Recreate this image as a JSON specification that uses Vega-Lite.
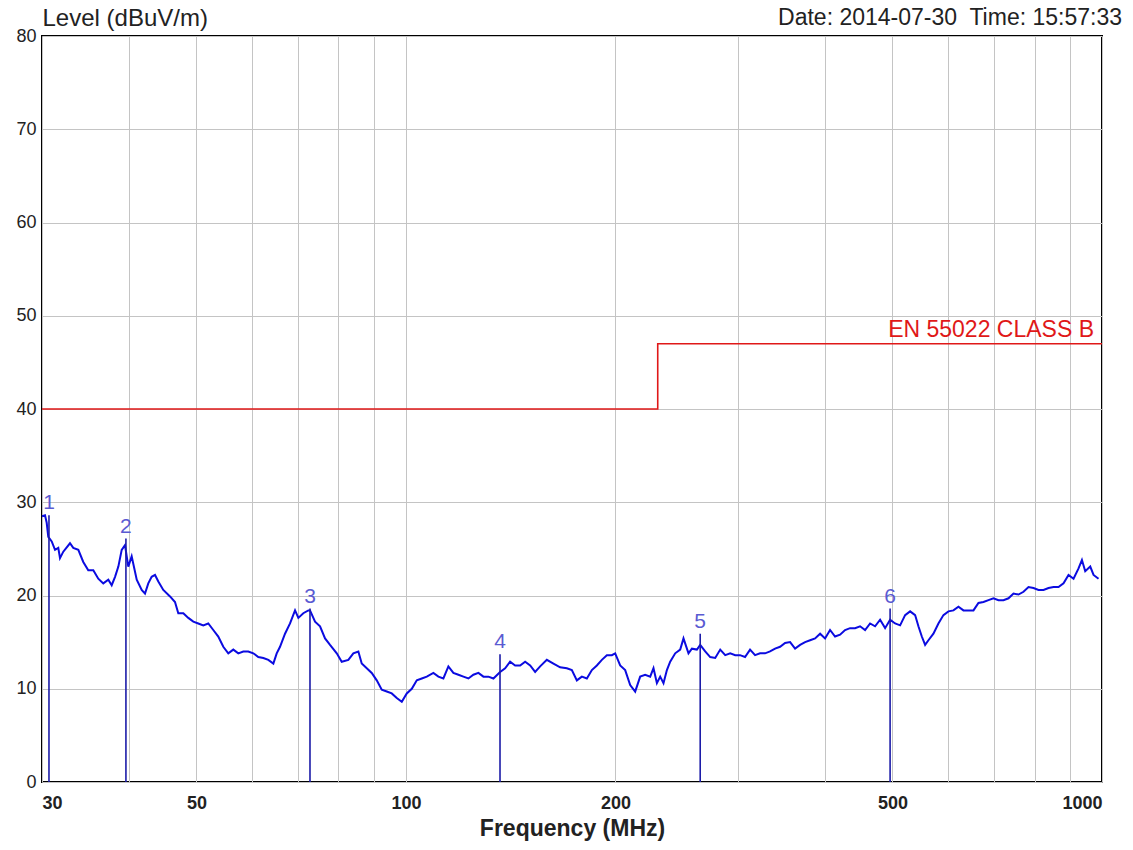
{
  "$schema": "https://vega.github.io/schema/vega-lite/v6.json",
  "width": 1060,
  "height": 746,
  "autosize": {"type": "none"},
  "padding": {"left": 42, "top": 36, "right": 31, "bottom": 68},
  "background": "white",
  "config": {
    "font": "Liberation Sans",
    "view": {"stroke": "#000000", "strokeWidth": 2},
    "axis": {"grid": true, "gridColor": "#c4c4c4", "gridWidth": 1, "domain": false, "ticks": false, "labelColor": "#222222", "titleColor": "#222222", "labelFontSize": 18, "titleFontSize": 23, "titleFontWeight": "normal"}
  },
  "datasets": {
    "trace": [
      {"f":30.0,"level":28.5},{"f":30.3,"level":28.6},{"f":30.47,"level":27.8},{"f":30.63,"level":26.3},{"f":30.98,"level":25.8},{"f":31.32,"level":24.9},{"f":31.66,"level":25.1},{"f":31.84,"level":24.0},{"f":32.19,"level":24.7},{"f":32.91,"level":25.6},{"f":33.27,"level":25.1},{"f":33.83,"level":24.9},{"f":34.39,"level":23.6},{"f":34.96,"level":22.7},{"f":35.55,"level":22.7},{"f":36.14,"level":21.8},{"f":36.74,"level":21.3},{"f":37.36,"level":21.7},{"f":37.78,"level":21.1},{"f":38.2,"level":22.0},{"f":38.62,"level":23.1},{"f":39.05,"level":24.9},{"f":39.48,"level":25.4},{"f":39.91,"level":23.1},{"f":40.36,"level":24.2},{"f":41.04,"level":21.7},{"f":41.72,"level":20.6},{"f":42.18,"level":20.2},{"f":42.64,"level":21.3},{"f":43.12,"level":22.0},{"f":43.6,"level":22.2},{"f":44.08,"level":21.5},{"f":44.81,"level":20.6},{"f":45.82,"level":19.9},{"f":46.58,"level":19.3},{"f":47.09,"level":18.1},{"f":47.88,"level":18.1},{"f":48.68,"level":17.6},{"f":49.49,"level":17.2},{"f":50.31,"level":17.0},{"f":51.15,"level":16.8},{"f":52.0,"level":17.0},{"f":52.87,"level":16.3},{"f":53.75,"level":15.6},{"f":54.65,"level":14.5},{"f":55.56,"level":13.8},{"f":56.49,"level":14.2},{"f":57.43,"level":13.8},{"f":58.39,"level":14.0},{"f":59.36,"level":14.0},{"f":60.35,"level":13.8},{"f":61.36,"level":13.4},{"f":62.39,"level":13.3},{"f":63.43,"level":13.1},{"f":64.49,"level":12.7},{"f":65.21,"level":13.8},{"f":65.93,"level":14.5},{"f":67.03,"level":15.9},{"f":68.15,"level":17.0},{"f":69.29,"level":18.4},{"f":70.05,"level":17.6},{"f":71.21,"level":18.1},{"f":72.4,"level":18.4},{"f":72.81,"level":18.4},{"f":74.03,"level":17.2},{"f":75.26,"level":16.7},{"f":76.52,"level":15.4},{"f":77.79,"level":14.7},{"f":79.54,"level":13.8},{"f":80.86,"level":12.9},{"f":82.65,"level":13.1},{"f":84.03,"level":13.8},{"f":85.43,"level":14.0},{"f":86.39,"level":12.7},{"f":87.84,"level":12.2},{"f":89.3,"level":11.7},{"f":90.79,"level":10.9},{"f":92.31,"level":9.9},{"f":93.85,"level":9.7},{"f":95.41,"level":9.5},{"f":97.01,"level":9.0},{"f":98.63,"level":8.6},{"f":100.27,"level":9.5},{"f":101.95,"level":10.0},{"f":103.65,"level":10.9},{"f":105.38,"level":11.1},{"f":107.14,"level":11.3},{"f":109.5,"level":11.7},{"f":111.33,"level":11.3},{"f":113.18,"level":11.1},{"f":115.07,"level":12.4},{"f":116.99,"level":11.7},{"f":118.95,"level":11.5},{"f":120.93,"level":11.3},{"f":122.95,"level":11.1},{"f":125.0,"level":11.5},{"f":127.09,"level":11.7},{"f":129.21,"level":11.3},{"f":131.36,"level":11.3},{"f":133.56,"level":11.1},{"f":136.55,"level":11.8},{"f":138.83,"level":12.2},{"f":141.14,"level":12.9},{"f":143.5,"level":12.5},{"f":145.9,"level":12.5},{"f":148.33,"level":12.9},{"f":150.81,"level":12.5},{"f":153.32,"level":11.8},{"f":155.88,"level":12.4},{"f":159.37,"level":13.1},{"f":162.89,"level":12.7},{"f":166.54,"level":12.3},{"f":170.28,"level":12.2},{"f":173.12,"level":12.0},{"f":176.01,"level":10.9},{"f":178.94,"level":11.3},{"f":181.93,"level":11.1},{"f":184.97,"level":12.0},{"f":188.05,"level":12.5},{"f":191.19,"level":13.1},{"f":194.38,"level":13.6},{"f":197.62,"level":13.6},{"f":199.8,"level":13.8},{"f":203.13,"level":12.5},{"f":206.52,"level":12.0},{"f":209.97,"level":10.4},{"f":213.47,"level":9.7},{"f":217.03,"level":11.3},{"f":220.65,"level":11.5},{"f":224.33,"level":11.3},{"f":226.8,"level":12.2},{"f":229.37,"level":10.6},{"f":231.88,"level":11.3},{"f":234.43,"level":10.6},{"f":237.08,"level":12.0},{"f":239.68,"level":12.9},{"f":243.68,"level":13.8},{"f":247.75,"level":14.2},{"f":250.46,"level":15.4},{"f":254.64,"level":13.8},{"f":257.53,"level":14.3},{"f":261.82,"level":14.2},{"f":264.7,"level":14.7},{"f":269.11,"level":14.0},{"f":273.61,"level":13.4},{"f":278.17,"level":13.3},{"f":282.81,"level":14.2},{"f":287.53,"level":13.6},{"f":292.33,"level":13.8},{"f":297.21,"level":13.6},{"f":301.99,"level":13.6},{"f":307.03,"level":13.4},{"f":312.16,"level":14.2},{"f":317.37,"level":13.6},{"f":322.66,"level":13.8},{"f":328.05,"level":13.8},{"f":333.52,"level":14.0},{"f":339.09,"level":14.3},{"f":344.75,"level":14.5},{"f":350.5,"level":14.9},{"f":356.35,"level":15.0},{"f":362.3,"level":14.3},{"f":368.35,"level":14.7},{"f":374.5,"level":15.0},{"f":380.75,"level":15.2},{"f":387.1,"level":15.4},{"f":393.56,"level":15.9},{"f":400.06,"level":15.4},{"f":406.73,"level":16.3},{"f":413.52,"level":15.6},{"f":420.42,"level":15.8},{"f":427.44,"level":16.3},{"f":434.57,"level":16.5},{"f":441.83,"level":16.5},{"f":449.2,"level":16.7},{"f":456.7,"level":16.3},{"f":464.32,"level":17.0},{"f":472.07,"level":16.7},{"f":479.95,"level":17.4},{"f":487.96,"level":16.5},{"f":496.1,"level":17.4},{"f":504.38,"level":17.0},{"f":512.8,"level":16.8},{"f":521.36,"level":17.9},{"f":530.06,"level":18.3},{"f":538.91,"level":17.9},{"f":544.82,"level":16.7},{"f":550.99,"level":15.6},{"f":557.04,"level":14.7},{"f":563.15,"level":15.2},{"f":572.55,"level":15.9},{"f":582.1,"level":17.0},{"f":591.82,"level":17.9},{"f":601.7,"level":18.3},{"f":611.74,"level":18.4},{"f":621.95,"level":18.8},{"f":632.33,"level":18.4},{"f":642.89,"level":18.4},{"f":653.62,"level":18.4},{"f":664.52,"level":19.2},{"f":675.62,"level":19.3},{"f":686.9,"level":19.5},{"f":698.36,"level":19.7},{"f":710.02,"level":19.5},{"f":721.87,"level":19.5},{"f":733.91,"level":19.7},{"f":746.17,"level":20.2},{"f":758.62,"level":20.1},{"f":771.28,"level":20.4},{"f":784.16,"level":20.9},{"f":797.24,"level":20.8},{"f":810.55,"level":20.6},{"f":824.08,"level":20.6},{"f":837.83,"level":20.8},{"f":851.82,"level":20.9},{"f":866.03,"level":20.9},{"f":880.49,"level":21.3},{"f":895.19,"level":22.2},{"f":910.13,"level":21.8},{"f":925.32,"level":22.9},{"f":935.78,"level":23.8},{"f":946.06,"level":22.6},{"f":961.85,"level":23.1},{"f":972.41,"level":22.2},{"f":988.64,"level":21.8}
    ],
    "limit": [
      {"i":1,"f":30,"limit":40},{"i":2,"f":230,"limit":40},{"i":3,"f":230,"limit":47},{"i":4,"f":1000,"limit":47}
    ],
    "limitLabel": [{"f":1000,"limit":47,"text":"EN 55022 CLASS B"}],
    "header": [{"f":1000,"level":80,"text":"Date: 2014-07-30\u00a0 Time: 15:57:33"}],
    "markers": [
      {"no":"1","f":30.7,"level":28.6},
      {"no":"2","f":39.6,"level":26.1},
      {"no":"3","f":72.8,"level":18.6},
      {"no":"4","f":136.5,"level":13.7},
      {"no":"5","f":264.7,"level":15.9},
      {"no":"6","f":496.1,"level":18.6}
    ]
  },
  "encoding": {
    "x": {"field": "f", "type": "quantitative",
      "scale": {"type": "log", "domain": [30, 1000], "nice": false},
      "axis": {"title": "Frequency (MHz)", "titleFontWeight": "bold", "labelFontWeight": "bold", "labelFlush": true, "labelPadding": 12, "titlePadding": 5,
        "values": [30,40,50,60,70,80,90,100,200,300,400,500,600,700,800,900,1000],
        "labelExpr": "indexof([30,50,100,200,500,1000], datum.value) >= 0 ? format(datum.value, 'd') : ''"}}
  },
  "layer": [
    {
      "data": {"name": "limit"},
      "mark": {"type": "line", "color": "#e01818", "strokeWidth": 1.6, "interpolate": "linear"},
      "encoding": {
        "order": {"field": "i", "type": "quantitative"},
        "y": {"field": "limit", "type": "quantitative",
          "scale": {"domain": [0, 80], "nice": false, "zero": true},
          "axis": {"title": "Level (dBuV/m)", "titleFontSize": 24, "values": [0,10,20,30,40,50,60,70,80], "labelPadding": 6, "titleAngle": 0, "titleAlign": "left", "titleBaseline": "alphabetic", "titleX": 0, "titleY": -11}}
      }
    },
    {
      "data": {"name": "limitLabel"},
      "mark": {"type": "text", "color": "#e01818", "fontSize": 23, "align": "right", "baseline": "alphabetic", "dx": -8, "dy": -7},
      "encoding": {
        "y": {"field": "limit", "type": "quantitative"},
        "text": {"field": "text"}
      }
    },
    {
      "data": {"name": "header"},
      "mark": {"type": "text", "color": "#222222", "fontSize": 23, "align": "right", "baseline": "alphabetic", "dx": 20, "dy": -11},
      "encoding": {
        "y": {"field": "level", "type": "quantitative"},
        "text": {"field": "text"}
      }
    },
    {
      "data": {"name": "trace"},
      "mark": {"type": "line", "color": "#0b0be0", "strokeWidth": 2},
      "encoding": {
        "y": {"field": "level", "type": "quantitative"}
      }
    },
    {
      "data": {"name": "markers"},
      "mark": {"type": "rule", "color": "#1c1ca8", "strokeWidth": 1.6},
      "encoding": {
        "y": {"field": "level", "type": "quantitative"},
        "y2": {"datum": 0}
      }
    },
    {
      "data": {"name": "markers"},
      "mark": {"type": "text", "color": "#5a5ad2", "fontSize": 21, "baseline": "alphabetic", "dy": -6},
      "encoding": {
        "y": {"field": "level", "type": "quantitative"},
        "text": {"field": "no"}
      }
    }
  ]
}
